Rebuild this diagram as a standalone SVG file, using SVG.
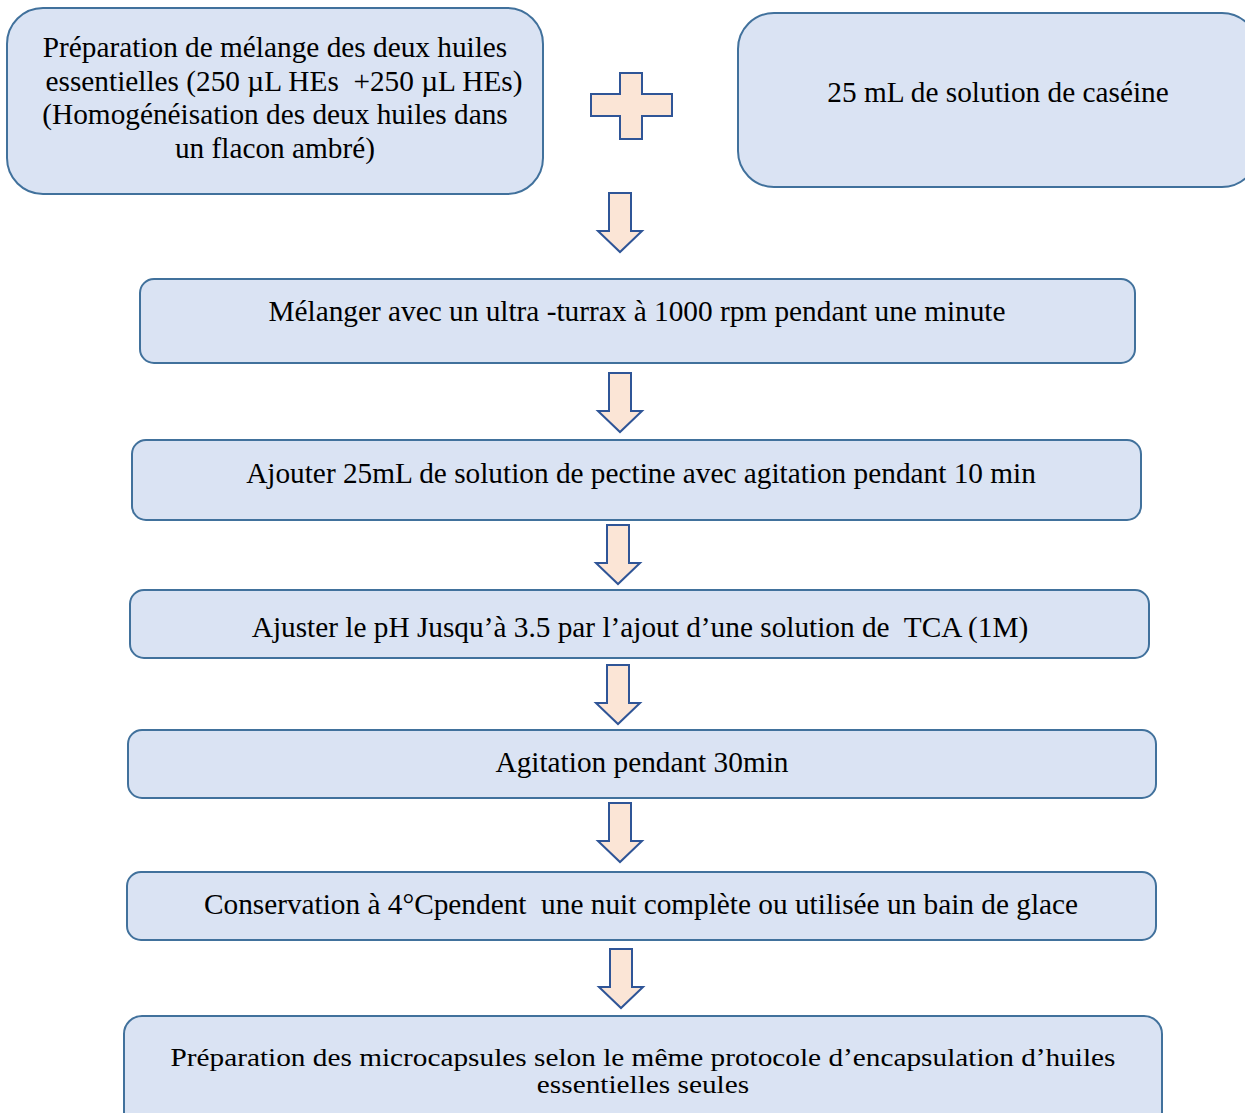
<svg xmlns="http://www.w3.org/2000/svg" width="1245" height="1113" viewBox="0 0 1245 1113">
<style>
.box{fill:#dae3f3;stroke:#41719c;stroke-width:2}
.arr{fill:#fbe5d6;stroke:#2f5597;stroke-width:2;stroke-linejoin:miter}
text{font-family:"Liberation Serif","Times New Roman",serif;font-size:29.3px;fill:#000;text-anchor:middle}
</style>
<defs>
<path id="down" d="M-11,0 H11 V38 H22 L0,59 L-22,38 H-11 Z"/>
</defs>
<rect width="1245" height="1113" fill="#fff"/>
<g id="n1"><rect class="box" x="7" y="8" width="536" height="186" rx="36"/>
<text x="275" y="57">Préparation de mélange des deux huiles</text>
<text x="284" y="91" xml:space="preserve">essentielles (250 µL HEs  +250 µL HEs)</text>
<text x="275" y="124">(Homogénéisation des deux huiles dans</text>
<text x="275" y="158">un flacon ambré)</text></g>
<g id="plus"><path class="arr" d="M620,73 H642 V94 H672 V116 H642 V139 H620 V116 H591 V94 H620 Z"/></g>
<g id="n2"><rect class="box" x="738" y="13" width="520" height="174" rx="36"/>
<text x="998" y="102">25 mL de solution de caséine</text></g>
<g id="n3"><rect class="box" x="140" y="279" width="995" height="84" rx="14"/>
<text x="637" y="321">Mélanger avec un ultra -turrax à 1000 rpm pendant une minute</text></g>
<g id="n4"><rect class="box" x="132" y="440" width="1009" height="80" rx="14"/>
<text x="641" y="483">Ajouter 25mL de solution de pectine avec agitation pendant 10 min</text></g>
<g id="n5"><rect class="box" x="130" y="590" width="1019" height="68" rx="14"/>
<text x="640" y="637" xml:space="preserve">Ajuster le pH Jusqu’à 3.5 par l’ajout d’une solution de  TCA (1M)</text></g>
<g id="n6"><rect class="box" x="128" y="730" width="1028" height="68" rx="14"/>
<text x="642" y="772">Agitation pendant 30min</text></g>
<g id="n7"><rect class="box" x="127" y="872" width="1029" height="68" rx="14"/>
<text x="641" y="914" xml:space="preserve">Conservation à 4°Cpendent  une nuit complète ou utilisée un bain de glace</text></g>
<g id="n8"><rect class="box" x="124" y="1016" width="1038" height="120" rx="18"/>
<text x="643" y="0" transform="translate(0,1066) scale(1,0.84)">Préparation des microcapsules selon le même protocole d’encapsulation d’huiles</text>
<text x="643" y="0" transform="translate(0,1093) scale(1,0.84)">essentielles seules</text></g>
<g id="connectors">
<use href="#down" class="arr" x="620" y="193"/>
<use href="#down" class="arr" x="620" y="373"/>
<use href="#down" class="arr" x="618" y="525"/>
<use href="#down" class="arr" x="618" y="665"/>
<use href="#down" class="arr" x="620" y="803"/>
<use href="#down" class="arr" x="621" y="949"/>
</g>
</svg>
